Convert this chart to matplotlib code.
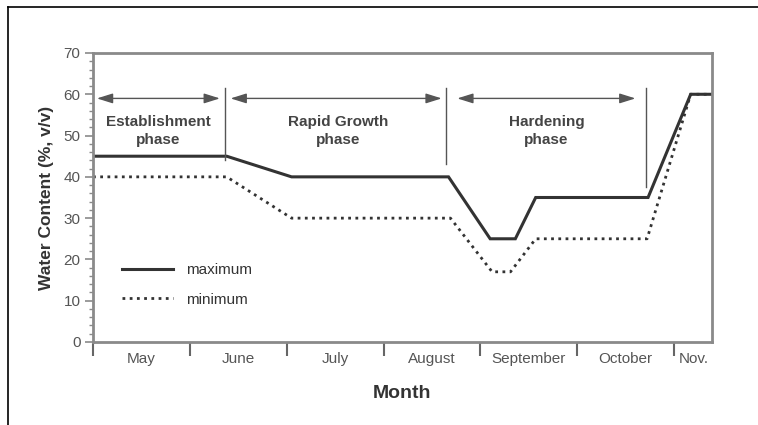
import matplotlib
matplotlib.use("Agg")
import matplotlib.pyplot as plt
from matplotlib.lines import Line2D
import numpy as np

plt.rcParams["font.family"] = ["Liberation Sans", "DejaVu Sans"]

# ---- data (x in months from start of May) ----
months = ["May", "June", "July", "August", "September", "October", "Nov."]
month_bounds = [0, 1, 2, 3, 4, 5, 6]
month_centers = [0.5, 1.5, 2.5, 3.5, 4.5, 5.5, 6.2]

max_x = [0.0, 1.38, 2.05, 3.67, 4.10, 4.36, 4.57, 5.73, 6.17, 6.39]
max_y = [45, 45, 40, 40, 25, 25, 35, 35, 60, 60]

min_x = [0.0, 1.38, 2.05, 3.69, 4.12, 4.31, 4.57, 5.72, 6.17, 6.39]
min_y = [40, 40, 30, 30, 17, 17, 25, 25, 60, 60]

phases = ["Establishment\nphase", "Rapid Growth\nphase", "Hardening\nphase"]
phase_start = [0.04, 1.42, 3.76]
phase_end = [1.31, 3.60, 5.60]
phase_center = [0.67, 2.53, 4.68]
sep_x = [1.36, 3.64, 5.71]
sep_bottom = [44, 43, 37.6]

fig = plt.figure(figsize=(7.58, 4.25), dpi=100)
ax = fig.add_axes([0.1227, 0.1953, 0.8166, 0.68])

gray = "#8a8a8a"
dark = "#333333"
tcol = "#555555"

ax.plot(max_x, max_y, color=dark, lw=2.2, solid_joinstyle="miter", label="maximum")
ax.plot(min_x, min_y, color=dark, lw=2.0, linestyle=(0, (1, 1.6)), label="minimum")

# phase arrows and separators
for s, e, c, t in zip(phase_start, phase_end, phase_center, phases):
    ax.annotate("", xy=(s, 59), xytext=(e, 59),
                arrowprops=dict(arrowstyle="<|-|>,head_length=0.8,head_width=0.25",
                                color="#555555", lw=1.0,
                                mutation_scale=12, shrinkA=0, shrinkB=0))
    ax.text(c, 51.2, t, ha="center", va="center", fontsize=11,
            fontweight="bold", color="#444444", linespacing=1.35)
for x, b in zip(sep_x, sep_bottom):
    ax.plot([x, x], [b, 61.5], color="#555555", lw=1.0)

ax.set_xlim(0, 6.39)
ax.set_ylim(0, 70)

for sp in ax.spines.values():
    sp.set_color(gray)
    sp.set_linewidth(2.0)

ax.set_yticks(np.arange(0, 71, 10))
ax.set_yticks(np.arange(0, 71, 2), minor=True)
ax.tick_params(axis="y", which="major", length=6, width=1.2, color=gray,
               labelsize=11, labelcolor=tcol, pad=3)
ax.tick_params(axis="y", which="minor", length=3, width=1.0, color=gray)

ax.set_xticks(month_bounds)
ax.set_xticklabels([""] * len(month_bounds))
ax.set_xticks(month_centers, minor=True)
ax.set_xticklabels(months, minor=True)
ax.tick_params(axis="x", which="major", length=10, width=1.5, color="#666666")
ax.tick_params(axis="x", which="minor", length=0, labelsize=11,
               labelcolor=tcol, pad=7)

ax.set_ylabel("Water Content (%, v/v)", fontsize=12.5, fontweight="bold",
              color=dark, labelpad=7)
ax.set_xlabel("Month", fontsize=14, fontweight="bold", color=dark, labelpad=14)

leg = ax.legend(loc="upper left", bbox_to_anchor=(0.025, 0.32), frameon=False,
                handlelength=3.3, fontsize=11, labelspacing=1.0,
                handletextpad=0.9)
for t in leg.get_texts():
    t.set_color(dark)

# outer frame (top and left)
fig.add_artist(Line2D([8 / 758, 1.0], [1 - 7 / 425, 1 - 7 / 425],
                      transform=fig.transFigure, color="black", lw=1.2))
fig.add_artist(Line2D([8 / 758, 8 / 758], [0, 1 - 7 / 425],
                      transform=fig.transFigure, color="black", lw=1.2))

fig.savefig("out.png", dpi=100)
